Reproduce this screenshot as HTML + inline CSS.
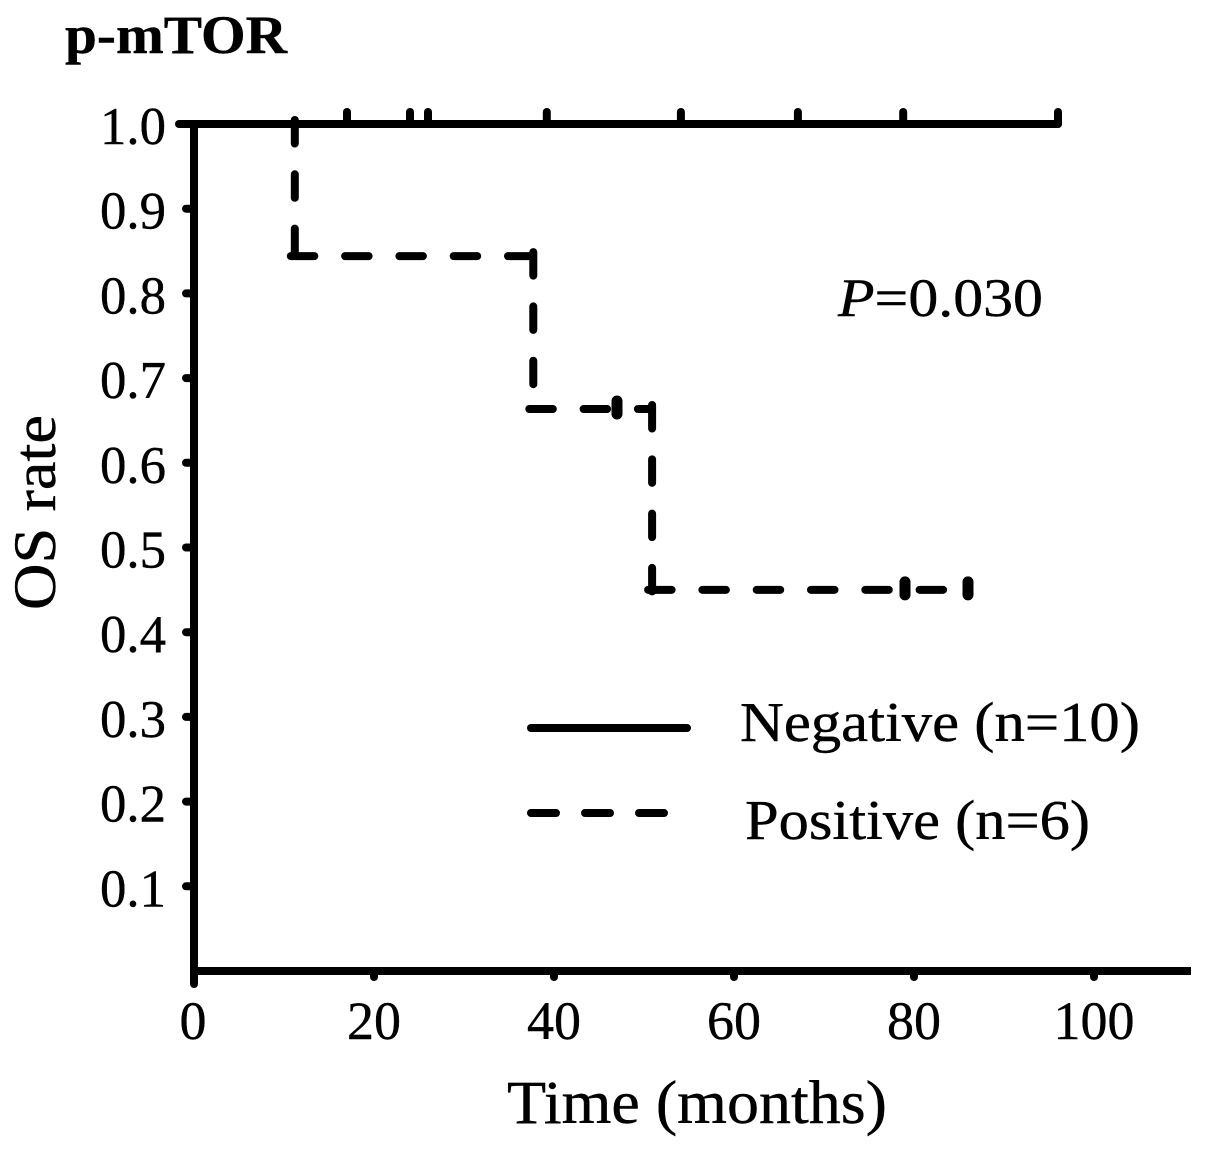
<!DOCTYPE html>
<html>
<head>
<meta charset="utf-8">
<title>p-mTOR overall survival</title>
<style>
html,body{margin:0;padding:0;background:#fff;width:1205px;height:1149px;overflow:hidden}
svg{display:block}
text{font-family:"Liberation Serif",serif;fill:#000;stroke:#000;stroke-width:0.4}
</style>
</head>
<body>
<svg id="chart" width="1205" height="1149" viewBox="0 0 1205 1149"></svg>
<script>
const xTickValues = [0, 20, 40, 60, 80, 100];
const xTickLabels = ["0", "20", "40", "60", "80", "100"];
const yTickValues = [0.1, 0.2, 0.3, 0.4, 0.5, 0.6, 0.7, 0.8, 0.9, 1.0];
const yTickLabels = ["0.1", "0.2", "0.3", "0.4", "0.5", "0.6", "0.7", "0.8", "0.9", "1.0"];
const negativeEndTime = 96;
const negativeCensorTimes = [17, 24, 26, 39.2, 54.1, 67.1, 78.8, 96];
const positiveStepTimes = [11.2, 37.7, 50.9];
const positiveStepLevels = [0.844, 0.6635, 0.45];
const positiveEndTime = 86;
const positiveCensorTimes = [47, 79, 86];

const NS = "http://www.w3.org/2000/svg";
const svg = document.getElementById("chart");
function xScale(t) { return 194 + t * 9; }
function yScale(v) { return 971 - v * 847; }
function add(tag, attrs, parent) {
  const el = document.createElementNS(NS, tag);
  for (const k in attrs) el.setAttribute(k, attrs[k]);
  (parent || svg).appendChild(el);
  return el;
}
function levelAt(t) {
  let level = 1;
  positiveStepTimes.forEach((s, i) => { if (t >= s) level = positiveStepLevels[i]; });
  return level;
}

// axes
const yAxis = add("line", {x1: 194, y1: yScale(1), x2: 194, y2: 984, stroke: "#000", "stroke-width": 8, "stroke-linecap": "round"});


const xAxis = add("line", {x1: 194, y1: 971, x2: 1191, y2: 971, stroke: "#000", "stroke-width": 8});



xTickValues.forEach((v, i) => {
  const tick = add("line", {x1: xScale(v), y1: 971, x2: xScale(v), y2: 977, stroke: "#000", "stroke-width": 8, "stroke-linecap": "round"});
  
  
  const label = add("text", {x: xScale(v) - (i === 0 ? 1 : 0), y: 1039, "text-anchor": "middle", "font-size": 54});
  label.textContent = xTickLabels[i];
  
  
});
yTickValues.forEach((v, i) => {
  const tick = add("line", {x1: 186, y1: yScale(v), x2: 194, y2: yScale(v), stroke: "#000", "stroke-width": 8, "stroke-linecap": "round"});
  
  
  const label = add("text", {x: 100, y: yScale(v) + 20, "font-size": 53, textLength: 66, lengthAdjust: "spacingAndGlyphs"});
  label.textContent = yTickLabels[i];
  
  
});

// negative series
const negLine = add("line", {x1: xScale(0) - 15, y1: yScale(1), x2: xScale(negativeEndTime), y2: yScale(1), stroke: "#000", "stroke-width": 8, "stroke-linecap": "round"});


negativeCensorTimes.forEach(t => {
  const c = add("line", {x1: xScale(t), y1: yScale(1) - 12, x2: xScale(t), y2: yScale(1), stroke: "#000", "stroke-width": 8, "stroke-linecap": "round"});
  
  
});

// positive series
const dashStyle = {stroke: "#000", "stroke-width": 8, "stroke-dasharray": "23.5 30.8", "stroke-linecap": "round", fill: "none"};
let prevLevel = 1;
positiveStepTimes.forEach((t, i) => {
  const level = positiveStepLevels[i];
  const nextT = i + 1 < positiveStepTimes.length ? positiveStepTimes[i + 1] : positiveEndTime;
  const drop = add("line", Object.assign({x1: xScale(t), y1: yScale(prevLevel) - 4, x2: xScale(t), y2: yScale(level) + 3}, dashStyle));
  
  
  const run = add("line", Object.assign({x1: xScale(t) - 4, y1: yScale(level), x2: xScale(nextT), y2: yScale(level)}, dashStyle));
  
  
  prevLevel = level;
});
positiveCensorTimes.forEach(t => {
  const y = yScale(levelAt(t));
  const c = add("line", {x1: xScale(t), y1: y - 8, x2: xScale(t), y2: y + 5, stroke: "#000", "stroke-width": 11, "stroke-linecap": "round"});
  
  
});

// legend line samples
const legendNeg = add("line", {x1: 531, y1: 728, x2: 687, y2: 728, stroke: "#000", "stroke-width": 8, "stroke-linecap": "round"});


const legendPos = add("line", {x1: 531, y1: 813, x2: 664, y2: 813, stroke: "#000", "stroke-width": 8, "stroke-linecap": "round", "stroke-dasharray": "25 29"});


</script>
<svg width="1205" height="1149" viewBox="0 0 1205 1149" style="position:absolute;left:0;top:0">
  <text x="65" y="53" font-size="54" font-weight="bold" textLength="222" lengthAdjust="spacingAndGlyphs">p-mTOR</text>
  <text x="838" y="316" font-size="54" textLength="205" lengthAdjust="spacingAndGlyphs"><tspan font-style="italic">P</tspan>=0.030</text>
  <text x="740" y="741" font-size="56" textLength="400" lengthAdjust="spacingAndGlyphs">Negative (n=10)</text>
  <text x="745" y="839" font-size="56" textLength="345" lengthAdjust="spacingAndGlyphs">Positive (n=6)</text>
  <text x="507" y="1123" font-size="61" textLength="380" lengthAdjust="spacingAndGlyphs">Time (months)</text>
  <text transform="translate(55 610) rotate(-90)" x="0" y="0" font-size="60" textLength="195" lengthAdjust="spacingAndGlyphs">OS rate</text>
</svg>
</body>
</html>
